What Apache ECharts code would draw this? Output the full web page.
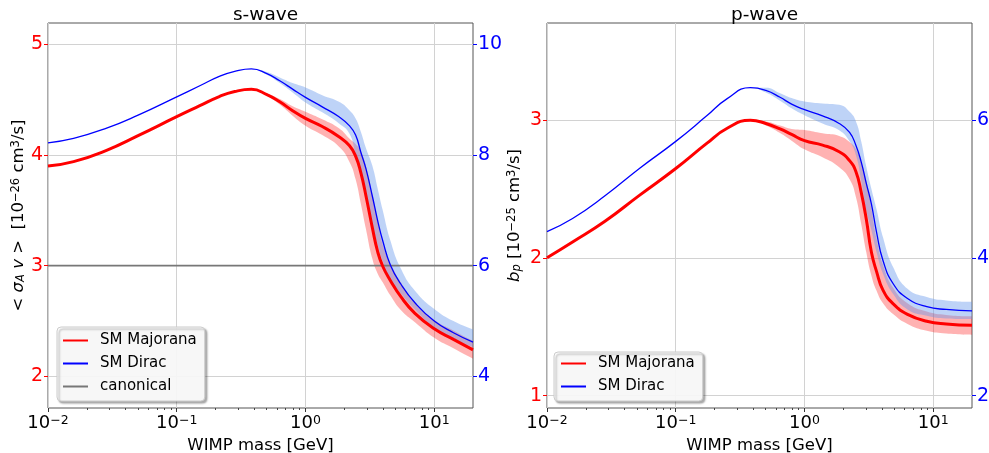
<!DOCTYPE html>
<html>
<head>
<meta charset="utf-8">
<script src="https://cdn.jsdelivr.net/npm/echarts@6/dist/echarts.min.js"></script>
<style>
  html, body { margin: 0; padding: 0; background: #ffffff; }
  #chart { width: 989px; height: 453px; }
</style>
</head>
<body>
<div id="chart"></div>
<script>
// ---------- data ----------
// WIMP masses in GeV; both panels use a log10 mass axis from 10^-2 to 20 GeV
const massMin = 0.01;
const massMax = 20;
const decadeTicks = [-2, -1, 0, 1];

// s-wave: thermally averaged cross section <sigma_A v>
const sMass = [0.01, 0.0158, 0.0282, 0.0501, 0.1, 0.151, 0.214, 0.282, 0.380, 0.501, 0.631, 0.794,
               1.0, 1.35, 1.82, 2.19, 2.45, 2.69, 2.95, 3.31, 3.63, 3.98, 4.57, 5.50, 7.08, 10.0, 14.1, 20.0];
// SM Majorana, left axis [1e-26 cm^3/s]
const sMajorana   = [3.90, 3.94, 4.04, 4.175, 4.346, 4.445, 4.528, 4.573, 4.593, 4.546, 4.48, 4.40,
                     4.33, 4.257, 4.165, 4.085, 3.99, 3.84, 3.63, 3.34, 3.13, 2.995, 2.865, 2.72, 2.57, 2.43, 2.335, 2.24];
const sMajoranaLo = [3.90, 3.94, 4.04, 4.175, 4.346, 4.445, 4.528, 4.573, 4.593, 4.536, 4.455, 4.355,
                     4.264, 4.18, 4.075, 3.94, 3.78, 3.56, 3.33, 3.06, 2.93, 2.85, 2.73, 2.60, 2.49, 2.35, 2.255, 2.16];
const sMajoranaHi = [3.90, 3.94, 4.04, 4.175, 4.346, 4.445, 4.528, 4.573, 4.593, 4.556, 4.505, 4.44,
                     4.39, 4.322, 4.241, 4.15, 4.10, 4.03, 3.90, 3.64, 3.41, 3.19, 3.02, 2.85, 2.66, 2.51, 2.415, 2.32];
// SM Dirac, right axis [1e-26 cm^3/s]
const sDirac   = [8.22, 8.30, 8.48, 8.72, 9.05, 9.25, 9.42, 9.51, 9.555, 9.47, 9.34, 9.19,
                  9.04, 8.87, 8.69, 8.53, 8.36, 8.05, 7.75, 7.25, 6.82, 6.45, 6.01, 5.67, 5.33, 5.00, 4.79, 4.62];
const sDiracLo = [8.22, 8.30, 8.48, 8.72, 9.05, 9.25, 9.42, 9.51, 9.555, 9.45, 9.30, 9.13,
                  8.95, 8.77, 8.57, 8.39, 8.02, 7.70, 7.28, 6.75, 6.38, 6.08, 5.75, 5.50, 5.21, 4.88, 4.68, 4.53];
const sDiracHi = [8.22, 8.30, 8.48, 8.72, 9.05, 9.25, 9.42, 9.51, 9.555, 9.50, 9.40, 9.30,
                  9.22, 9.08, 8.96, 8.81, 8.66, 8.42, 8.12, 7.80, 7.40, 7.00, 6.45, 5.95, 5.55, 5.22, 5.00, 4.85];
const canonicalValue = 3;

// p-wave: coefficient b_p
const pMass = [0.01, 0.0158, 0.0282, 0.0525, 0.1, 0.174, 0.251, 0.380, 0.501, 0.646, 0.794, 1.0,
               1.38, 1.86, 2.24, 2.51, 2.75, 3.02, 3.31, 3.63, 4.07, 4.90, 6.31, 8.91, 12.6, 20.0];
// SM Majorana, left axis [1e-25 cm^3/s]
const pMajorana   = [2.00, 2.115, 2.265, 2.455, 2.648, 2.83, 2.94, 2.998, 2.975, 2.935, 2.895, 2.85,
                     2.818, 2.77, 2.705, 2.625, 2.48, 2.28, 2.04, 1.90, 1.765, 1.665, 1.59, 1.54, 1.52, 1.51];
const pMajoranaLo = [2.00, 2.115, 2.265, 2.455, 2.648, 2.83, 2.94, 2.998, 2.96, 2.905, 2.85, 2.787,
                     2.729, 2.657, 2.57, 2.44, 2.25, 2.04, 1.87, 1.76, 1.67, 1.59, 1.52, 1.47, 1.45, 1.44];
const pMajoranaHi = [2.00, 2.115, 2.265, 2.455, 2.648, 2.83, 2.94, 2.998, 2.99, 2.96, 2.935, 2.927,
                     2.903, 2.884, 2.84, 2.79, 2.70, 2.56, 2.36, 2.14, 1.95, 1.78, 1.67, 1.61, 1.585, 1.575];
// SM Dirac, right axis [1e-25 cm^3/s]
const pDirac   = [4.38, 4.57, 4.90, 5.30, 5.69, 6.06, 6.31, 6.47, 6.43, 6.33, 6.23, 6.15,
                  6.06, 5.95, 5.82, 5.63, 5.40, 5.08, 4.78, 4.37, 3.96, 3.62, 3.41, 3.29, 3.25, 3.23];
const pDiracLo = [4.38, 4.57, 4.90, 5.30, 5.69, 6.06, 6.31, 6.47, 6.40, 6.28, 6.17, 6.07,
                  5.95, 5.85, 5.69, 5.49, 5.13, 4.69, 4.40, 4.08, 3.77, 3.47, 3.25, 3.16, 3.12, 3.11];
const pDiracHi = [4.38, 4.57, 4.90, 5.30, 5.69, 6.06, 6.31, 6.47, 6.47, 6.39, 6.32, 6.27,
                  6.24, 6.22, 6.12, 5.98, 5.70, 5.32, 5.00, 4.70, 4.30, 3.86, 3.55, 3.43, 3.38, 3.36];

// tick positions of the y axes
const sLeftTicks = [2, 3, 4, 5];
const sRightTicks = [4, 6, 8, 10];
const pLeftTicks = [1, 2, 3];
const pRightTicks = [2, 4, 6];

// ---------- style ----------
const FONT = 'DejaVu Sans';
const RED = '#ff0000';
const BLUE = '#0000ff';
const RED_FILL = 'rgba(255, 0, 0, 0.30)';
const BLUE_FILL = 'rgba(100, 149, 237, 0.42)';
const GRID_COLOR = '#d2d2d2';
const SPINE = '#555555';
const SMOOTH = 0.5;

const xLo = Math.log10(massMin);
const xHi = Math.log10(massMax);

// minor ticks at 2..9 x 10^n inside the mass range
const minorTicks = [];
for (let n = -2; n <= 1; n++) {
  for (let k = 2; k <= 9; k++) {
    const v = Math.log10(k * Math.pow(10, n));
    if (v < xHi) minorTicks.push(v);
  }
}

const panelRects = [
  { left: 48, top: 23, width: 425, height: 385 },
  { left: 547, top: 23, width: 425, height: 385 }
];
const gridBase = { containLabel: false, outerBoundsMode: 'none' };

function toPoints(mass, vals) {
  return mass.map((m, i) => [Math.log10(m), vals[i]]);
}

function curve(name, mass, vals, xi, yi, color, width, z) {
  return {
    type: 'line', name, xAxisIndex: xi, yAxisIndex: yi,
    data: toPoints(mass, vals), symbol: 'none', showSymbol: false,
    smooth: SMOOTH, lineStyle: { color, width }, itemStyle: { color },
    z, silent: true, animation: false
  };
}

// Uncertainty band: the lower edge plus the band height stacked on top of it.
// Rows are [value, log10 mass] so that the stack runs along the y dimension.
function band(id, mass, lo, hi, xi, yi, fill) {
  const common = {
    type: 'line', stack: id, xAxisIndex: xi, yAxisIndex: yi,
    dimensions: ['v', 'm'], encode: { x: 'm', y: 'v' },
    symbol: 'none', smooth: SMOOTH, lineStyle: { width: 0, opacity: 0 },
    z: 1, silent: true, animation: false
  };
  return [
    Object.assign({}, common, {
      name: id + ' lower',
      data: mass.map((m, i) => [lo[i], Math.log10(m)])
    }),
    Object.assign({}, common, {
      name: id + ' upper',
      data: mass.map((m, i) => [hi[i] - lo[i], Math.log10(m)]),
      areaStyle: { color: fill, opacity: 1 }
    })
  ];
}

function decadeLabel(v) {
  const e = Math.round(v);
  return '{b|10}{s|' + (e < 0 ? '\u2212' + (-e) : String(e)) + '}';
}

function mainXAxis(gridIndex) {
  return {
    type: 'value', gridIndex, min: xLo, max: xHi, position: 'bottom',
    axisLine: { show: false, onZero: false },
    axisTick: { show: true, length: 4, customValues: decadeTicks, lineStyle: { color: '#333', width: 1 } },
    axisLabel: {
      customValues: decadeTicks, margin: 6, formatter: decadeLabel,
      rich: {
        b: { fontFamily: FONT, fontSize: 18, color: '#000' },
        s: { fontFamily: FONT, fontSize: 12.5, color: '#000', verticalAlign: 'top' }
      }
    },
    splitLine: { show: true, lineStyle: { color: GRID_COLOR, width: 1 } },
    name: 'WIMP mass [GeV]', nameLocation: 'middle', nameGap: 26,
    nameTextStyle: { fontFamily: FONT, fontSize: 16.5, color: '#000' }
  };
}

function minorXAxis(gridIndex) {
  return {
    type: 'value', gridIndex, min: xLo, max: xHi, position: 'bottom',
    axisLine: { show: false, onZero: false },
    axisTick: { show: true, length: 2, customValues: minorTicks, lineStyle: { color: '#444', width: 1 } },
    axisLabel: { show: false }, splitLine: { show: false }
  };
}

function valueYAxis(gridIndex, side, min, max, ticks, color, grid, extra) {
  return Object.assign({
    type: 'value', gridIndex, position: side, min, max,
    axisLine: { show: false, onZero: false },
    axisTick: { show: true, length: 4, customValues: ticks, lineStyle: { color, width: 1 } },
    axisLabel: { customValues: ticks, margin: 5, color, fontFamily: FONT, fontSize: 19 },
    splitLine: { show: grid, lineStyle: { color: GRID_COLOR, width: 1 } }
  }, extra || {});
}

const nameRich = {
  t: { fontFamily: FONT, fontSize: 16.5, color: '#000' },
  i: { fontFamily: FONT, fontSize: 16.5, color: '#000', fontStyle: 'italic' },
  d: { fontFamily: FONT, fontSize: 11.5, color: '#000', fontStyle: 'italic', verticalAlign: 'bottom' },
  u: { fontFamily: FONT, fontSize: 11.5, color: '#000', verticalAlign: 'top' }
};

const legendBase = {
  orient: 'vertical', itemWidth: 25, itemHeight: 14, itemGap: 8,
  backgroundColor: 'rgba(255,255,255,0.9)', borderColor: '#cccccc', borderWidth: 1, borderRadius: 4,
  shadowColor: 'rgba(0,0,0,0.35)', shadowBlur: 2, shadowOffsetX: 2, shadowOffsetY: 2,
  itemStyle: { opacity: 0 },
  textStyle: { fontFamily: FONT, fontSize: 15, color: '#000', padding: [0, 0, 0, 7] },
  selectedMode: false
};

const chart = echarts.init(document.getElementById('chart'), null, { renderer: 'canvas' });

const option = {
  animation: false,
  backgroundColor: '#ffffff',
  textStyle: { fontFamily: FONT },
  title: [
    { text: 's-wave', left: 260.5, top: 1, textAlign: 'center',
      textStyle: { fontFamily: FONT, fontSize: 18.5, fontWeight: 'normal', color: '#000' } },
    { text: 'p-wave', left: 759.5, top: 1, textAlign: 'center',
      textStyle: { fontFamily: FONT, fontSize: 18.5, fontWeight: 'normal', color: '#000' } }
  ],
  grid: [
    Object.assign({ show: true, borderColor: SPINE, borderWidth: 1, backgroundColor: 'transparent' }, gridBase, panelRects[0]),
    Object.assign({ show: true, borderColor: SPINE, borderWidth: 1, backgroundColor: 'transparent' }, gridBase, panelRects[1]),
    Object.assign({ show: false }, gridBase, panelRects[0]),
    Object.assign({ show: false }, gridBase, panelRects[1])
  ],
  xAxis: [mainXAxis(0), mainXAxis(1), minorXAxis(2), minorXAxis(3)],
  yAxis: [
    valueYAxis(0, 'left', 1.715, 5.192, sLeftTicks, RED, true, {
      name: '{t|< }{i|\u03c3}{d|A}{i| v}{t| >  [10}{u|\u221226}{t| cm}{u|3}{t|/s]}',
      nameLocation: 'middle', nameRotate: 90, nameGap: 16,
      nameTextStyle: { rich: nameRich }
    }),
    valueYAxis(0, 'right', 3.43, 10.384, sRightTicks, BLUE, false),
    valueYAxis(1, 'left', 0.910, 3.704, pLeftTicks, RED, true, {
      name: '{i|b}{d|p}{t| [10}{u|\u221225}{t| cm}{u|3}{t|/s]}',
      nameLocation: 'middle', nameRotate: 90, nameGap: 24,
      nameTextStyle: { rich: nameRich }
    }),
    valueYAxis(1, 'right', 1.82, 7.408, pRightTicks, BLUE, false),
    { type: 'value', gridIndex: 2, min: 0, max: 1, show: false },
    { type: 'value', gridIndex: 3, min: 0, max: 1, show: false }
  ],
  legend: [
    Object.assign({}, legendBase, {
      left: 57, top: 327, padding: [6, 8, 7, 5],
      data: ['SM Majorana', 'SM Dirac', 'canonical']
    }),
    Object.assign({}, legendBase, {
      left: 554, top: 352, padding: [4, 8, 7, 6],
      data: ['SM Majorana', 'SM Dirac']
    })
  ],
  series: [
    ...band('s Majorana', sMass, sMajoranaLo, sMajoranaHi, 0, 0, RED_FILL),
    ...band('s Dirac', sMass, sDiracLo, sDiracHi, 0, 1, BLUE_FILL),
    {
      type: 'line', name: 'canonical', xAxisIndex: 0, yAxisIndex: 0,
      data: [[xLo, canonicalValue], [xHi, canonicalValue]], symbol: 'none',
      lineStyle: { color: '#777777', width: 1.8 }, itemStyle: { color: '#777777' },
      z: 2, silent: true, animation: false
    },
    curve('SM Majorana', sMass, sMajorana, 0, 0, RED, 3, 3),
    curve('SM Dirac', sMass, sDirac, 0, 1, BLUE, 1.3, 4),
    ...band('p Majorana', pMass, pMajoranaLo, pMajoranaHi, 1, 2, RED_FILL),
    ...band('p Dirac', pMass, pDiracLo, pDiracHi, 1, 3, BLUE_FILL),
    curve('SM Majorana', pMass, pMajorana, 1, 2, RED, 3, 3),
    curve('SM Dirac', pMass, pDirac, 1, 3, BLUE, 1.3, 4)
  ]
};

chart.setOption(option);
</script>
</body>
</html>
